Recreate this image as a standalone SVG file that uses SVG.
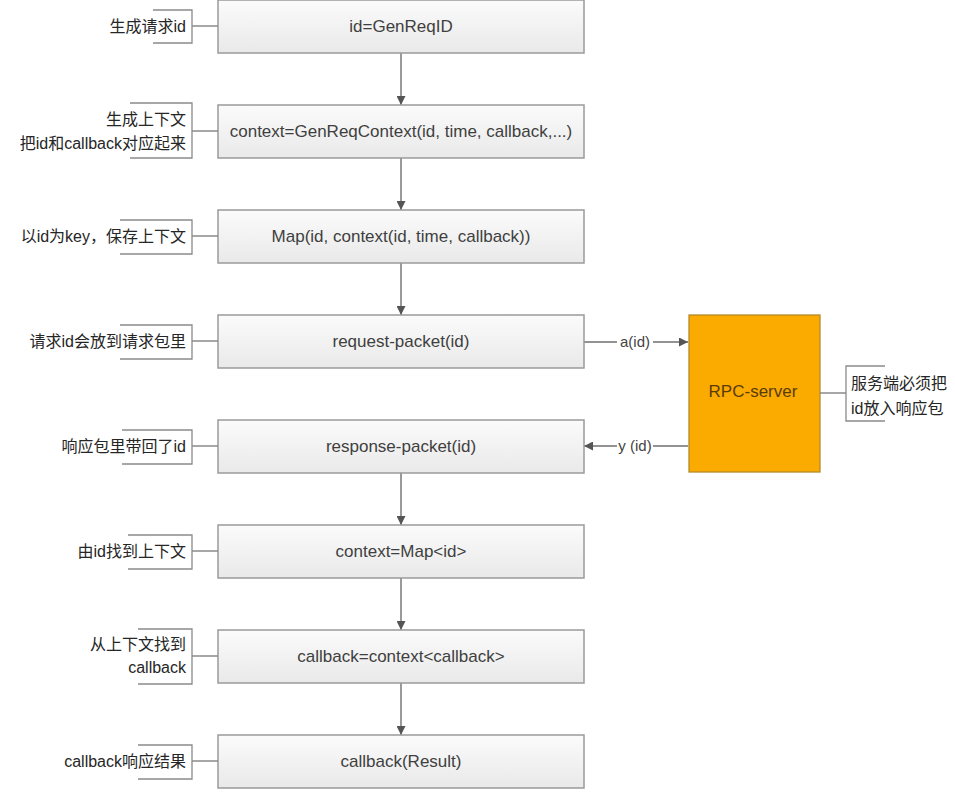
<svg xmlns="http://www.w3.org/2000/svg" width="955" height="793" viewBox="0 0 955 793">
<defs>
<linearGradient id="g" x1="0" y1="0" x2="0" y2="1">
<stop offset="0" stop-color="#fbfbfb"/>
<stop offset="1" stop-color="#e9e9e9"/>
</linearGradient>
<marker id="ah" viewBox="0 0 10 10" refX="10" refY="5" markerWidth="9" markerHeight="9" markerUnits="userSpaceOnUse" orient="auto">
<path d="M0,0 L10,5 L0,10 z" fill="#555"/>
</marker>
<style>
.box{fill:url(#g);stroke:#9a9a9a;stroke-width:1.5}
.t{font-family:"Liberation Sans","Noto Sans CJK SC",sans-serif;font-size:17px;fill:#3f3f3f;text-anchor:middle}
.a{font-family:"Liberation Sans","Noto Sans CJK SC",sans-serif;font-size:16px;fill:#262626;text-anchor:end}
.r{font-family:"Liberation Sans","Noto Sans CJK SC",sans-serif;font-size:16px;fill:#262626}
.br{fill:none;stroke:#8a8a8a;stroke-width:1.3}
.c{fill:none;stroke:#6f6f6f;stroke-width:1.4}
.lbl{font-family:"Liberation Sans",sans-serif;font-size:15px;fill:#444;text-anchor:middle}
</style>
</defs>
<rect width="955" height="793" fill="#fff"/>

<g id="connectors">
<line class="c" x1="401" y1="53" x2="401" y2="105" marker-end="url(#ah)"/>
<line class="c" x1="401" y1="158" x2="401" y2="210" marker-end="url(#ah)"/>
<line class="c" x1="401" y1="263" x2="401" y2="315" marker-end="url(#ah)"/>
<line class="c" x1="401" y1="473" x2="401" y2="525" marker-end="url(#ah)"/>
<line class="c" x1="401" y1="578" x2="401" y2="630" marker-end="url(#ah)"/>
<line class="c" x1="401" y1="683" x2="401" y2="735" marker-end="url(#ah)"/>
<line class="c" x1="584" y1="342" x2="617" y2="342"/>
<line class="c" x1="653" y1="342" x2="688" y2="342" marker-end="url(#ah)"/>
<text class="lbl" x="635" y="347">a(id)</text>
<line class="c" x1="688" y1="446" x2="653" y2="446"/>
<line class="c" x1="617" y1="446" x2="584" y2="446" marker-end="url(#ah)"/>
<text class="lbl" x="635" y="451">y (id)</text>
</g>

<g id="n1">
<rect class="box" x="218" y="0" width="366" height="53"/>
<text class="t" x="401" y="32">id=GenReqID</text>
<path class="br" d="M218,26 H192 M153,10 H192 V43 H153"/>
<text class="a" x="186" y="32">生成请求id</text>
</g>
<g id="n2">
<rect class="box" x="218" y="105" width="366" height="53"/>
<text class="t" x="401" y="137">context=GenReqContext(id, time, callback,...)</text>
<path class="br" d="M218,131 H192 M130,103 H192 V158 H130"/>
<text class="a" x="186" y="125">生成上下文</text>
<text class="a" x="186" y="149">把id和callback对应起来</text>
</g>
<g id="n3">
<rect class="box" x="218" y="210" width="366" height="53"/>
<text class="t" x="401" y="242">Map(id, context(id, time, callback))</text>
<path class="br" d="M218,236 H192 M120,220 H192 V254 H120"/>
<text class="a" x="186" y="242">以id为key，保存上下文</text>
</g>
<g id="n4">
<rect class="box" x="218" y="315" width="366" height="53"/>
<text class="t" x="401" y="347">request-packet(id)</text>
<path class="br" d="M218,341 H192 M120,325 H192 V359 H120"/>
<text class="a" x="186" y="347">请求id会放到请求包里</text>
</g>
<g id="n5">
<rect class="box" x="218" y="420" width="366" height="53"/>
<text class="t" x="401" y="452">response-packet(id)</text>
<path class="br" d="M218,446 H192 M122,430 H192 V464 H122"/>
<text class="a" x="186" y="452">响应包里带回了id</text>
</g>
<g id="n6">
<rect class="box" x="218" y="525" width="366" height="53"/>
<text class="t" x="401" y="557">context=Map&lt;id&gt;</text>
<path class="br" d="M218,551 H192 M128,535 H192 V569 H128"/>
<text class="a" x="186" y="557">由id找到上下文</text>
</g>
<g id="n7">
<rect class="box" x="218" y="630" width="366" height="53"/>
<text class="t" x="401" y="662">callback=context&lt;callback&gt;</text>
<path class="br" d="M218,656 H192 M138,629 H192 V684 H138"/>
<text class="a" x="186" y="650">从上下文找到</text>
<text class="a" x="186" y="673">callback</text>
</g>
<g id="n8">
<rect class="box" x="218" y="735" width="366" height="53"/>
<text class="t" x="401" y="767">callback(Result)</text>
<path class="br" d="M218,761 H192 M138,745 H192 V779 H138"/>
<text class="a" x="186" y="767">callback响应结果</text>
</g>
<g id="rpc">
<rect x="689" y="315" width="131" height="157" fill="#fbaa00" stroke="#b58a2a" stroke-width="1.3"/>
<text x="753" y="397" font-family="Liberation Sans,sans-serif" font-size="17" fill="#5a3c0a" text-anchor="middle">RPC-server</text>
<path class="br" d="M820,393 H846 M885,366 H846 V421 H885"/>
<text class="r" x="851" y="389">服务端必须把</text>
<text class="r" x="851" y="414">id放入响应包</text>
</g>
</svg>
